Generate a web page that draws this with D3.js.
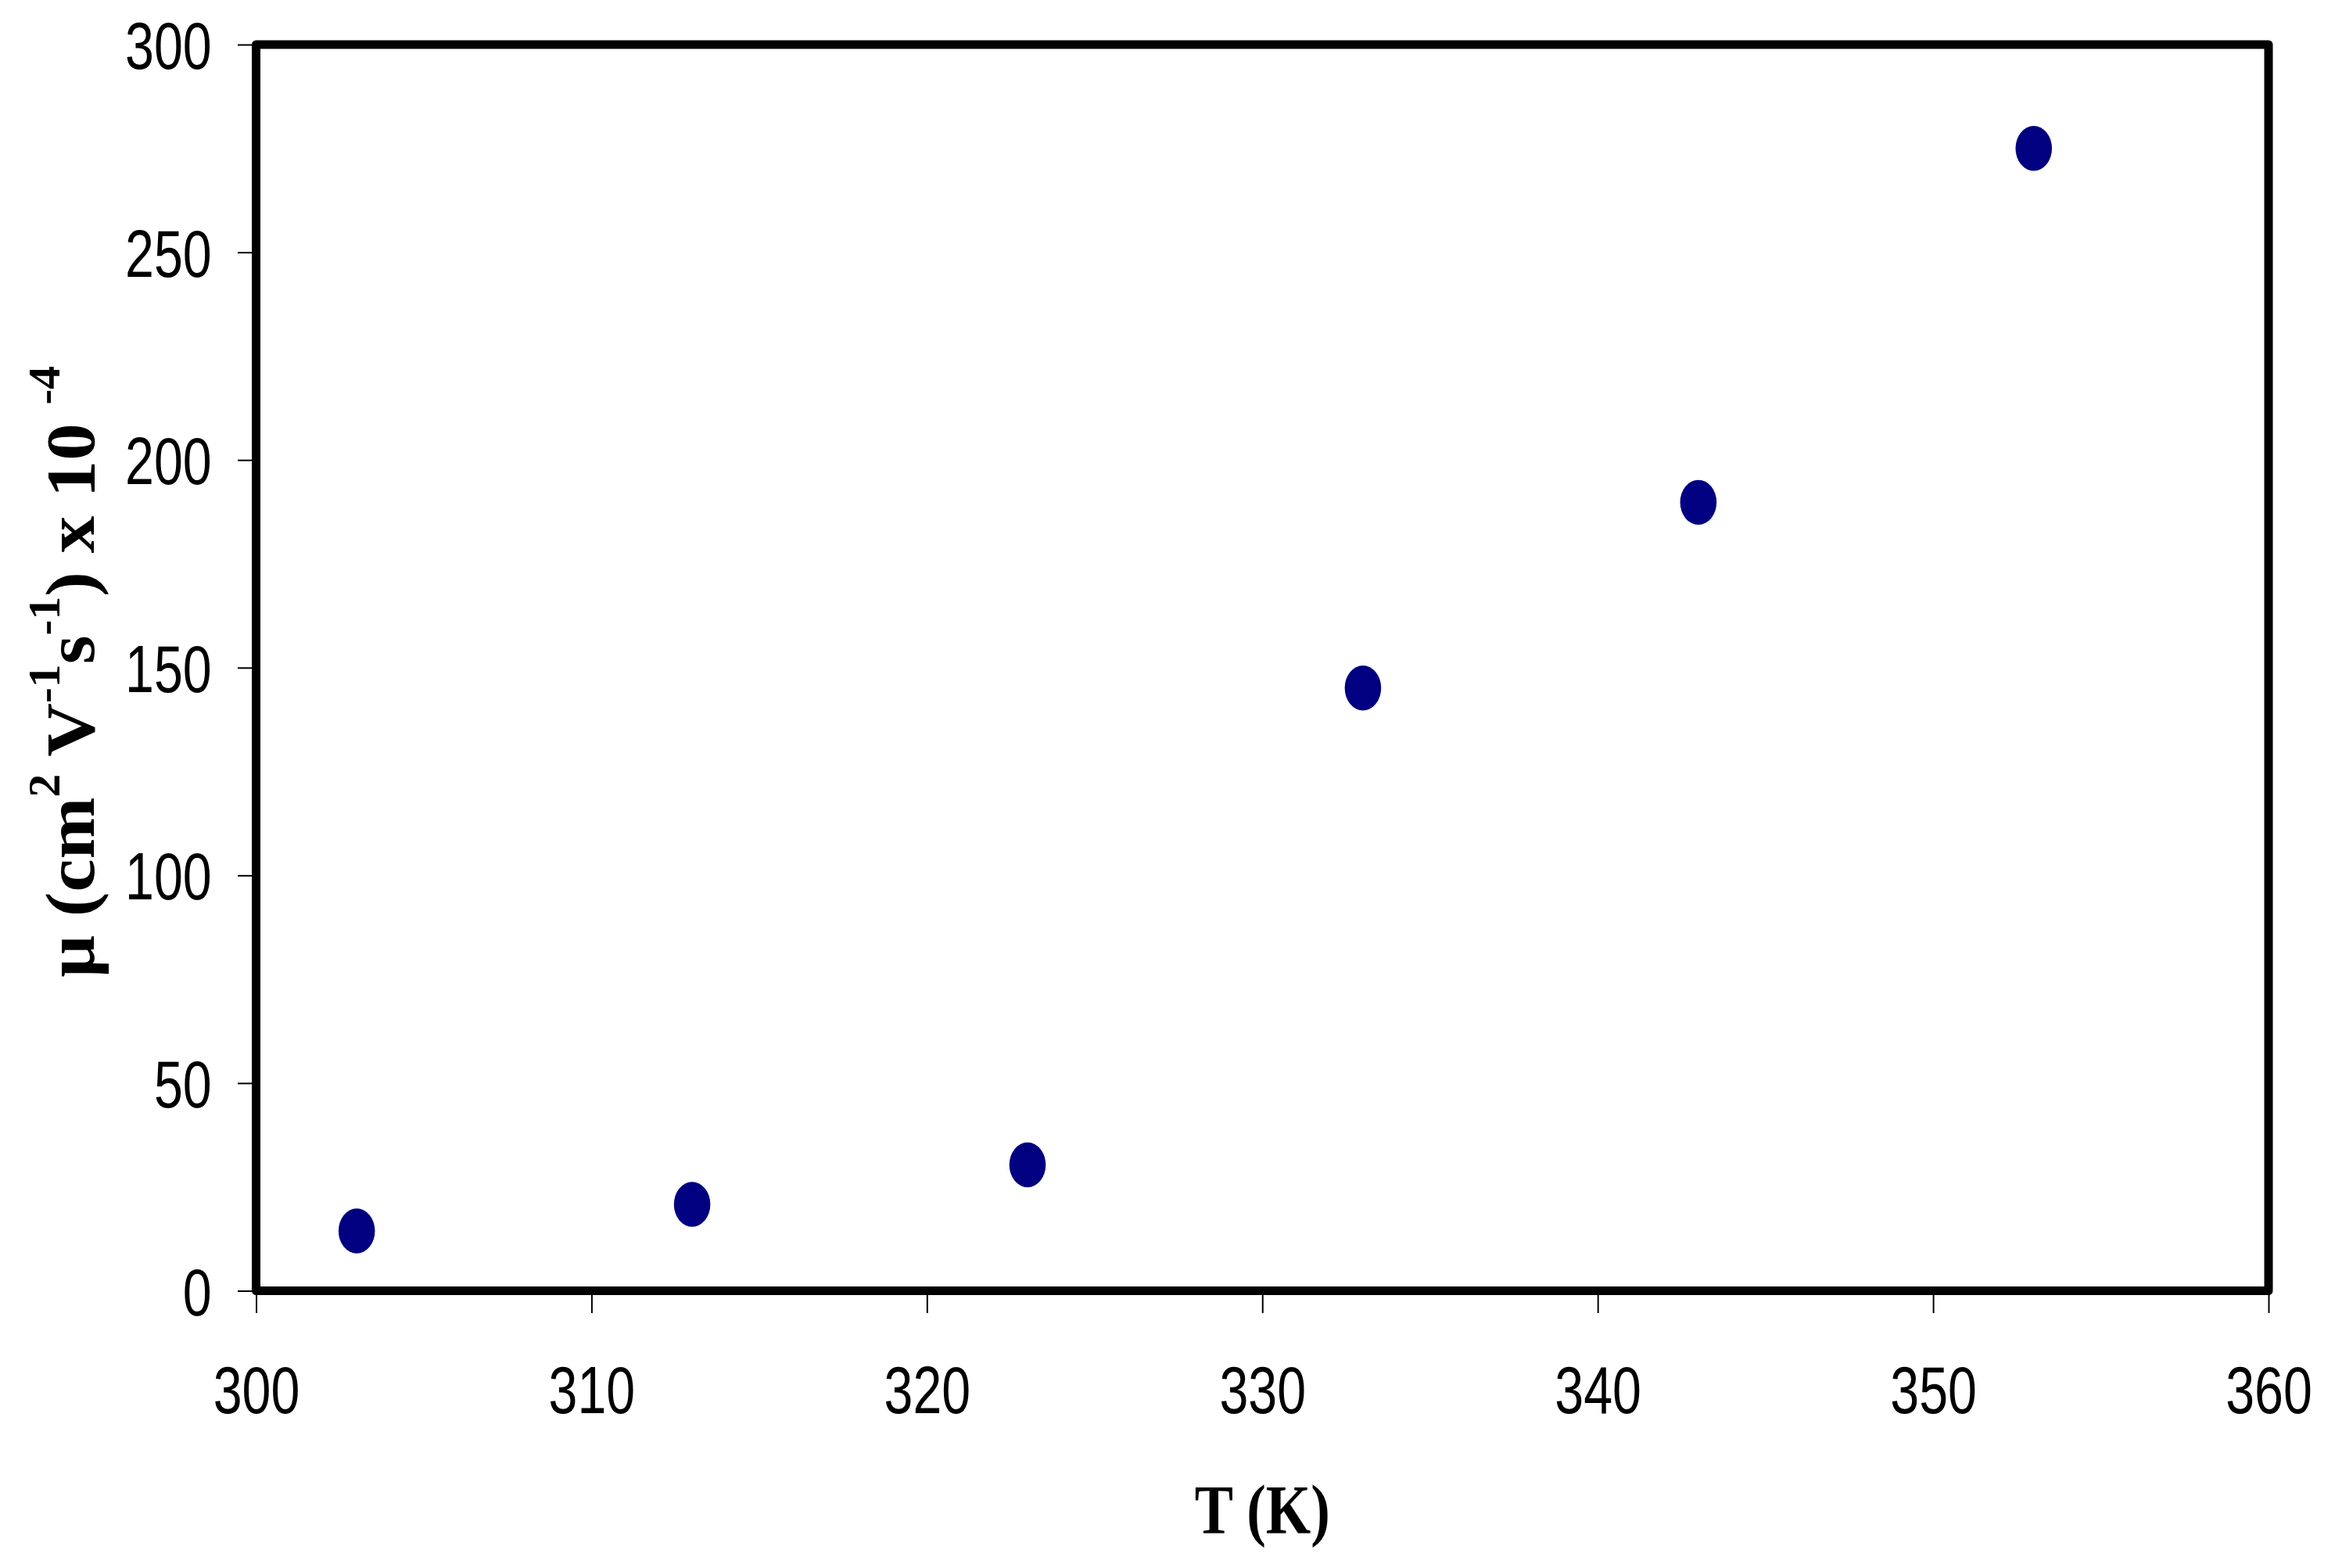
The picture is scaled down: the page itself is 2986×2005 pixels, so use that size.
<!DOCTYPE html>
<html>
<head>
<meta charset="utf-8">
<script src="https://cdn.jsdelivr.net/npm/d3@7"></script>
<style>
  html, body { margin: 0; padding: 0; background: #fff; }
  svg { display: block; }
</style>
</head>
<body>
<script>
// ---- data ----
const temperatures = [303, 313, 323, 333, 343, 353];
const mobility = [14.4, 20.8, 30.3, 145.1, 189.8, 275];
const xTicks = [300, 310, 320, 330, 340, 350, 360];
const yTicks = [0, 50, 100, 150, 200, 250, 300];

const W = 2986, H = 2005;
const plotL = 327.5, plotR = 2901, plotT = 57, plotB = 1650.5;

const svg = d3.select("body").append("svg")
  .attr("width", W).attr("height", H)
  .attr("viewBox", `0 0 ${W} ${H}`);

svg.append("rect").attr("width", W).attr("height", H).attr("fill", "#fff");

const x = d3.scaleLinear().domain([300, 360]).range([plotL, plotR]);
const y = d3.scaleLinear().domain([0, 300]).range([plotB, plotT]);

const tickFont = "'Liberation Sans', Arial, sans-serif";
const sx = 0.78;

// left axis
const gy = svg.append("g").attr("transform", `translate(${plotL},0)`)
  .call(d3.axisLeft(y).tickValues(yTicks).tickSize(23.5).tickPadding(33).tickFormat(d3.format("d")));
gy.select(".domain").remove();
gy.selectAll(".tick line").attr("stroke", "#000").attr("stroke-width", 2);
gy.selectAll(".tick text")
  .attr("font-family", tickFont).attr("font-size", 85).attr("fill", "#000")
  .attr("x", 0).attr("dy", 30.5)
  .attr("transform", `translate(-56.8,0) scale(${sx},1)`);

// bottom axis
const gx = svg.append("g").attr("transform", `translate(0,${plotB})`)
  .call(d3.axisBottom(x).tickValues(xTicks).tickSize(28.5).tickFormat(d3.format("d")));
gx.select(".domain").remove();
gx.selectAll(".tick line").attr("stroke", "#000").attr("stroke-width", 2);
gx.selectAll(".tick text")
  .attr("font-family", tickFont).attr("font-size", 85).attr("fill", "#000")
  .attr("y", 156.5).attr("dy", 0)
  .attr("transform", `scale(${sx},1)`);

// frame
svg.append("rect")
  .attr("x", x(300)).attr("y", y(300))
  .attr("width", x(360) - x(300)).attr("height", y(0) - y(300))
  .attr("fill", "none").attr("stroke", "#000").attr("stroke-width", 11)
  .attr("stroke-linejoin", "round");

// points
svg.append("g").selectAll("ellipse")
  .data(temperatures.map((t, i) => ({ t, m: mobility[i] })))
  .join("ellipse")
  .attr("cx", d => x(d.t)).attr("cy", d => y(d.m))
  .attr("rx", 23.3).attr("ry", 28.7)
  .attr("fill", "#000080");

// x label
const serif = "'Liberation Serif', 'Times New Roman', serif";
svg.append("text")
  .attr("transform", `translate(${(plotL + plotR) / 2},1960) scale(0.83,1)`)
  .attr("text-anchor", "middle")
  .attr("font-family", serif).attr("font-weight", "bold").attr("font-size", 89)
  .attr("fill", "#000")
  .text("T (K)");

// y label
const ylG = svg.append("g")
  .attr("transform", `translate(120,${(plotT + plotB) / 2 + 5}) rotate(-90)`);
const yl = ylG.append("text")
  .attr("text-anchor", "middle")
  .attr("font-family", serif).attr("font-weight", "bold").attr("font-size", 89)
  .attr("fill", "#000");
const parts = [
  ["\u03bc (cm", false], ["2", true], [" V", false], ["-1", true],
  ["s", false], ["-1", true], [") x 10 ", false], ["-4", true]
];
let shifted = false;
parts.forEach(([t, sup]) => {
  const ts = yl.append("tspan").text(t);
  if (sup) {
    ts.attr("font-size", 56).attr("dy", shifted ? 0 : -44);
    shifted = true;
  } else {
    ts.attr("dy", shifted ? 44 : 0);
    shifted = false;
  }
});
const len = yl.node().getComputedTextLength();
if (len > 0) yl.attr("transform", `scale(${782 / len},1)`);
</script>
</body>
</html>
